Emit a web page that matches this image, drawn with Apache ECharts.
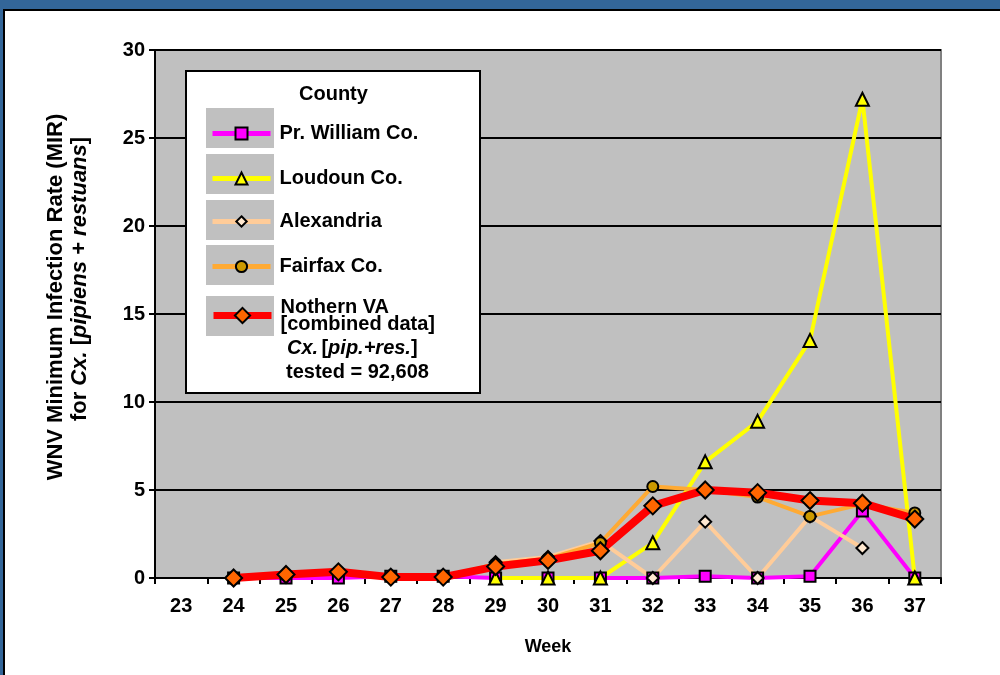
<!DOCTYPE html>
<html><head><meta charset="utf-8">
<script src="https://cdn.jsdelivr.net/npm/echarts@6/dist/echarts.min.js"></script>
<style>html,body{margin:0;padding:0;background:#336699;}#c{width:1000px;height:675px;}</style>
</head><body><div id="c"></div>
<script>
const weeks = ['23','24','25','26','27','28','29','30','31','32','33','34','35','36','37'];
const prWilliam = [null, 0, 0, 0, 0.1, 0.1, 0, 0, 0, 0, 0.1, 0, 0.1, 3.8, 0];
const loudoun = [null, null, null, null, null, null, 0, 0, 0, 2.0, 6.6, 8.9, 13.5, 27.2, 0];
const alexandria = [null, null, null, null, null, null, 0.9, 1.2, 2.1, 0, 3.2, 0, 3.5, 1.7, null];
const fairfax = [null, 0, 0.2, 0.35, 0.05, 0.05, 0.8, 1.1, 2.0, 5.2, 5.0, 4.6, 3.5, 4.2, 3.7];
const northernVA = [null, 0, 0.2, 0.35, 0.05, 0.05, 0.65, 1.0, 1.55, 4.1, 5.0, 4.85, 4.4, 4.25, 3.35];
const yTicks = [0, 5, 10, 15, 20, 25, 30];

const FONT = '"Liberation Sans", Arial, sans-serif';
const chart = echarts.init(document.getElementById('c'));

const seriesDefs = [
  {name: 'Pr. William Co.', data: prWilliam, line: '#FF00FF', fill: '#FF00FF', symbol: 'rect', size: 11, width: 4, lw: 5, ih: 15},
  {name: 'Loudoun Co.', data: loudoun, line: '#FFFF00', fill: '#FFFF00', symbol: 'triangle', size: 13, width: 4, lw: 5, ih: 15},
  {name: 'Alexandria', data: alexandria, line: '#FFCC99', fill: '#FFE8D0', symbol: 'diamond', size: 12, width: 4, lw: 5, ih: 13},
  {name: 'Fairfax Co.', data: fairfax, line: '#FFAA33', fill: '#CC9900', symbol: 'circle', size: 11, width: 4, lw: 5, ih: 14},
  {name: 'Nothern VA', data: northernVA, line: '#FF0000', fill: '#FF6600', symbol: 'diamond', size: 17, width: 8, lw: 7, ih: 19}
];
const legendCenters = [128.5, 173.5, 216.5, 261.5, 309];
const swatchCenters = [128, 174, 220, 265, 316];

const legends = seriesDefs.map((s, i) => ({
  data: [s.name],
  z: 10,
  left: 205,
  top: i === 4 ? legendCenters[i] - 17 : legendCenters[i] - 10,
  itemWidth: 58,
  itemHeight: s.ih,
  selectedMode: false,
  lineStyle: {width: s.lw},
  formatter: n => n === 'Nothern VA' ? 'Nothern VA\n[combined data]' : n,
  textStyle: {fontFamily: FONT, fontWeight: 'bold', fontSize: 20, color: '#000', lineHeight: i === 4 ? 17 : 20, padding: [0, 0, 0, 4]}
}));

const swatches = swatchCenters.map(cy => ({
  type: 'rect', z: 5, shape: {x: 206, y: cy - 20, width: 68, height: 40},
  style: {fill: '#C0C0C0'}
}));

const richY = {
  b: {font: 'bold 22px ' + FONT, fill: '#000'},
  i: {font: 'italic bold 22px ' + FONT, fill: '#000'}
};

chart.setOption({
  backgroundColor: '#336699',
  animation: false,
  graphic: [
    {type: 'rect', z: -10, shape: {x: 4, y: 10, width: 1000, height: 670}, style: {fill: '#FFFFFF', stroke: '#000', lineWidth: 2}},
    {type: 'rect', z: 4, shape: {x: 186, y: 71, width: 294, height: 322}, style: {fill: '#FFFFFF', stroke: '#000', lineWidth: 2}},
    ...swatches,
    {type: 'text', z: 6, left: 299, top: 84, style: {text: 'County', font: 'bold 20px ' + FONT, fill: '#000'}},
    {type: 'text', z: 6, left: 287, top: 338, style: {
      text: '{i|Cx.} {b|[}{i|pip.+res.}{b|]}',
      rich: {i: {font: 'italic bold 20px ' + FONT, fill: '#000'}, b: {font: 'bold 20px ' + FONT, fill: '#000'}}
    }},
    {type: 'text', z: 6, left: 286, top: 362, style: {text: 'tested = 92,608', font: 'bold 20px ' + FONT, fill: '#000'}},
    {type: 'text', z: 6, x: 56, y: 297, rotation: Math.PI / 2, style: {
      text: '{b|WNV Minimum Infection Rate (MIR)}', rich: richY, align: 'center', verticalAlign: 'middle'
    }},
    {type: 'text', z: 6, x: 80, y: 279, rotation: Math.PI / 2, style: {
      text: '{b|for }{i|Cx.}{b| [}{i|pipiens + restuans}{b|]}', rich: richY, align: 'center', verticalAlign: 'middle'
    }}
  ],
  legend: legends,
  grid: {left: 155, right: 59, top: 50, bottom: 97, show: true, backgroundColor: '#C0C0C0', borderColor: '#808080', borderWidth: 2},
  xAxis: {
    type: 'category', data: weeks, boundaryGap: true,
    name: 'Week', nameLocation: 'middle', nameGap: 60,
    nameTextStyle: {fontFamily: FONT, fontWeight: 'bold', fontSize: 18, color: '#000'},
    axisLine: {lineStyle: {color: '#000', width: 2}},
    axisTick: {show: true, length: 6, lineStyle: {color: '#000', width: 2}},
    axisLabel: {fontFamily: FONT, fontWeight: 'bold', fontSize: 20, color: '#000', margin: 18}
  },
  yAxis: {
    type: 'value', min: 0, max: 30, interval: 5,
    axisLine: {show: true, lineStyle: {color: '#000', width: 2}},
    axisTick: {show: true, length: 6, lineStyle: {color: '#000', width: 2}},
    axisLabel: {fontFamily: FONT, fontWeight: 'bold', fontSize: 20, color: '#000', margin: 10},
    splitLine: {lineStyle: {color: '#000', width: 2}}
  },
  series: seriesDefs.map(s => ({
    name: s.name, type: 'line', data: s.data,
    symbol: s.symbol, symbolSize: s.size, showAllSymbol: true, connectNulls: false,
    lineStyle: {color: s.line, width: s.width},
    itemStyle: {color: s.fill, borderColor: '#000', borderWidth: 2},
    emphasis: {disabled: true}
  }))
});
</script></body></html>
